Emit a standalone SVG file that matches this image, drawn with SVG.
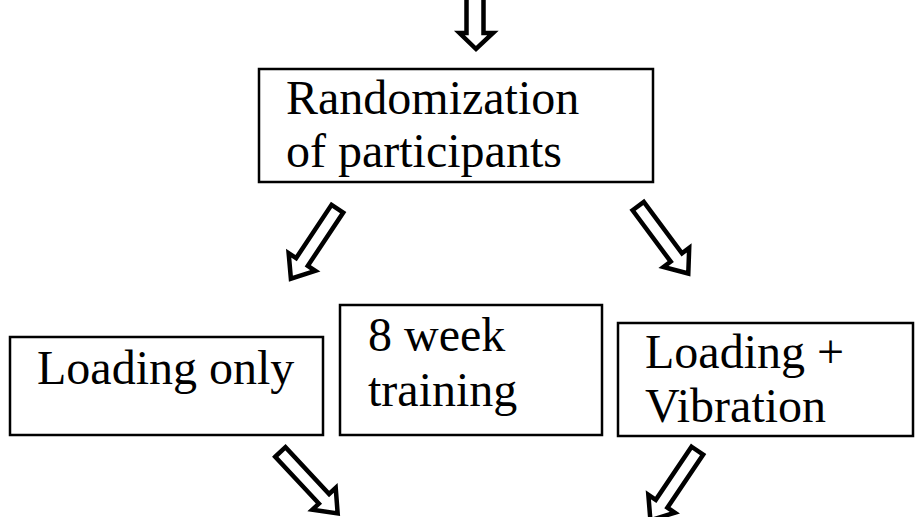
<svg xmlns="http://www.w3.org/2000/svg" width="918" height="517" viewBox="0 0 918 517">
<style>
.box{fill:#fff;stroke:#000;stroke-width:2.5}
.t{font-family:"Liberation Serif","Times New Roman",serif;font-size:48px;fill:#000}
.arr{fill:#fff;stroke:#000;stroke-width:4.5;stroke-linejoin:miter}
</style>
<defs>
<polygon id="da" points="-7,2 7,2 7,66 16,66 0,86 -16,66 -7,66"/>
</defs>
<rect width="918" height="517" fill="#fff"/>
<g id="connectors">
<path class="arr" d="M466.5,-5 L466.5,33 L459.5,33 L476,49 L493,33 L483.5,33 L483.5,-5 Z"/>
<use href="#da" class="arr" transform="translate(338.5,207) rotate(33.6)"/>
<use href="#da" class="arr" transform="translate(637,204.5) rotate(-36.6)"/>
<use href="#da" class="arr" transform="translate(279,450.5) rotate(-43)"/>
<use href="#da" class="arr" transform="translate(698.5,449) rotate(34)"/>
</g>
<g id="randomization">
<rect class="box" x="259" y="69" width="394" height="113"/>
<text class="t" x="286" y="114">Randomization</text>
<text class="t" x="286" y="167">of participants</text>
</g>
<g id="loading-only">
<rect class="box" x="10" y="337" width="313" height="98"/>
<text class="t" x="37" y="384">Loading only</text>
</g>
<g id="training">
<rect class="box" x="340" y="305" width="262" height="130"/>
<text class="t" x="368" y="351">8 week</text>
<text class="t" x="368" y="406">training</text>
</g>
<g id="loading-vibration">
<rect class="box" x="618" y="323" width="295" height="113"/>
<text class="t" x="645" y="368">Loading +</text>
<text class="t" x="645" y="422">Vibration</text>
</g>
</svg>
